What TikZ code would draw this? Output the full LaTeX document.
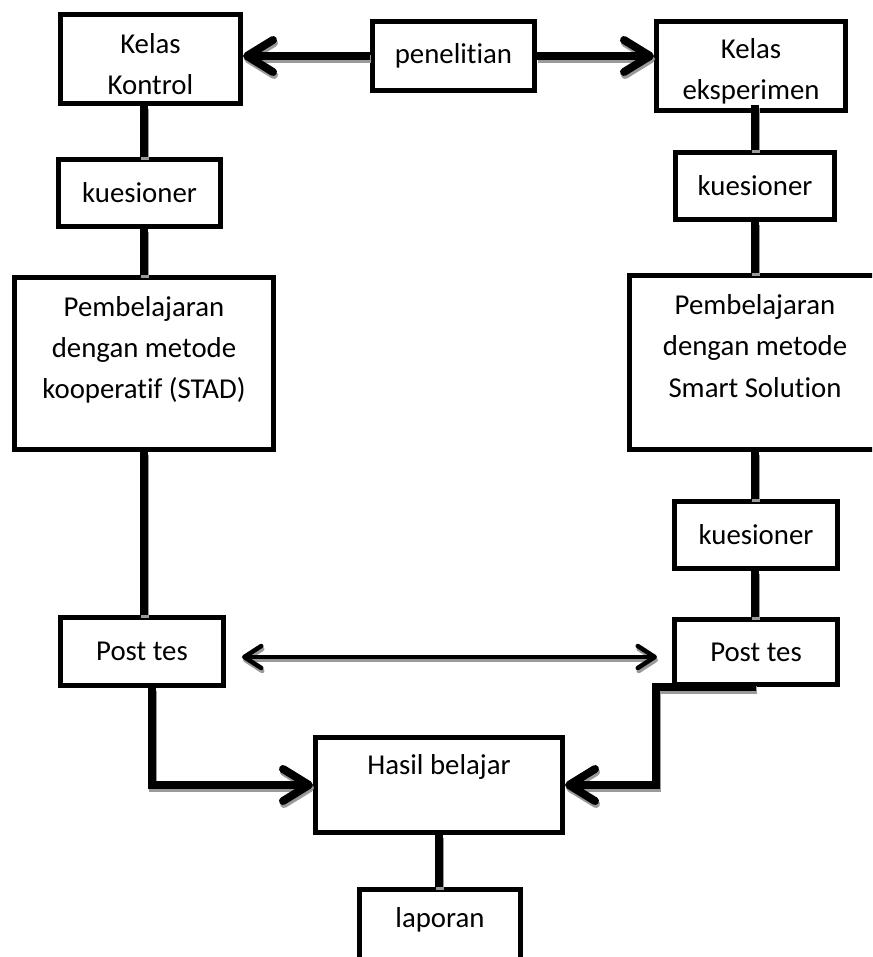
\documentclass[tikz,border=0pt]{standalone}
\usepackage{fontspec}
\setmainfont{Carlito}[Ligatures=NoCommon]
\usepackage{tikz}
\usetikzlibrary{arrows.meta, positioning, calc}
\definecolor{shadow-gray}{HTML}{9A9A9A}

\tikzset{
  box/.style={draw, line width=5pt, align=center, inner sep=0pt,
              font=\fontsize{28.8}{41}\selectfont},
  shade/.style={preaction={draw=shadow-gray, line width=#1,
                transform canvas={shift={(1pt,-3pt)}}}},
  link/.style={line width=8pt, shade=8pt},
  arr/.style={link, -{Straight Barb[length=26pt, width=32pt, round]}},
  twoway/.style={line width=4.5pt, shade=4.5pt, shorten <=16pt, shorten >=15pt,
                 {Straight Barb[length=17pt, width=22pt, round]}-{Straight Barb[length=17pt, width=22pt, round]}},
}

\begin{document}
\begin{tikzpicture}[x=1pt, y=-1pt]
  \useasboundingbox (0,0) rectangle (872,957);
  \clip (0,0) rectangle (872,957);

  % top row
  \node[box, minimum width=180, minimum height=89, text height=71pt, text depth=0pt] (kontrol) at (150.5,59) {Kelas\\Kontrol};
  \node[box, minimum width=162, minimum height=69] (penelitian) at (453.5,56) {penelitian};
  \node[box, minimum width=189, minimum height=89, text height=68pt, text depth=0pt] (eksperimen) at (751,66) {Kelas\\eksperimen};

  % left column
  \node[box, minimum width=162, minimum height=67] (kues-l) at (139.5,193) {kuesioner};
  \node[box, minimum width=259, minimum height=172, text depth=33pt] (belajar-l) at (144,363.5)
    {Pembelajaran\\dengan metode\\kooperatif (STAD)};
  \node[box, minimum width=163, minimum height=68] (post-l) at (142,651.5) {Post tes};

  % right column
  \node[box, minimum width=159, minimum height=67] (kues-r) at (755,186) {kuesioner};
  \node[box, minimum width=251, minimum height=174, text depth=33pt] (belajar-r) at (755,362.5)
    {Pembelajaran\\dengan metode\\Smart Solution};
  \node[box, minimum width=163, minimum height=67] (kues-r2) at (756,535) {kuesioner};
  \node[box, minimum width=163, minimum height=65] (post-r) at (756,652) {Post tes};

  % bottom
  \node[box, minimum width=247, minimum height=95, text height=20pt, text depth=42pt] (hasil) at (439,785) {Hasil belajar};
  \node[box, minimum width=161, minimum height=75, text height=20pt, text depth=20pt] (laporan) at (440,927) {laporan};

  % connectors
  \draw[arr] (penelitian.west) -- (penelitian.west -| kontrol.east);
  \draw[arr] (penelitian.east) -- (penelitian.east -| eksperimen.west);

  \draw[link] (belajar-l.north |- kontrol.south) -- (belajar-l.north |- kues-l.north);
  \draw[link] (belajar-l.north |- kues-l.south) -- (belajar-l.north);
  \draw[link] (belajar-l.south) -- (belajar-l.south |- post-l.north);

  \draw[link] ($(kues-r.north |- eksperimen.south)+(0,-8)$) -- (kues-r.north);
  \draw[link] (kues-r.south) -- (kues-r.south |- belajar-r.north);
  \draw[link] (kues-r.south |- belajar-r.south) -- (kues-r.south |- kues-r2.north);
  \draw[link] (kues-r.south |- kues-r2.south) -- (kues-r.south |- post-r.north);

  \draw[twoway] (post-l.east |- 0,657) -- (post-r.west |- 0,657);

  \draw[arr] ([xshift=10pt]post-l.south) |- (hasil.west);
  \draw[arr] (post-r.south) -- ([xshift=-16pt]post-r.south west) |- (hasil.east);

  \draw[link] (hasil.south) -- (hasil.south |- laporan.north);
\end{tikzpicture}
\end{document}
